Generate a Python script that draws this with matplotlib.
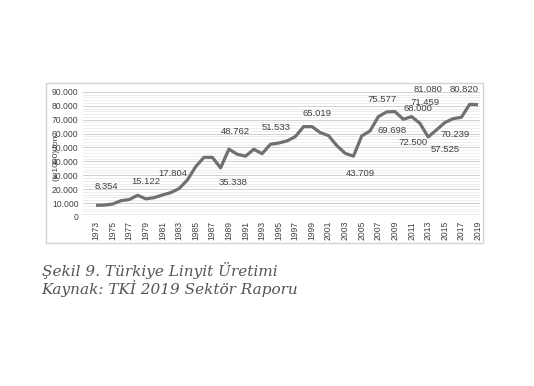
import numpy as np
import matplotlib.pyplot as plt
from matplotlib.patches import Rectangle
from matplotlib.ticker import MultipleLocator, FuncFormatter

# lignite production, thousand tons
years = list(range(1973, 2020))
production = [8354, 8500, 9300, 11700, 12500, 15600, 13000, 13900, 15800, 17500,
              20400, 26600, 36200, 42900, 42900, 35338, 48762, 45100, 43700, 48700,
              45500, 52300, 53200, 54700, 57800, 65019, 65000, 60700, 58500, 51300,
              45800, 43709, 58300, 61900, 72200, 75577, 75800, 70300, 72200, 67400,
              57525, 62600, 67900, 70700, 71700, 81080, 80820]

# data labels as they sit on the chart: text, anchor year, anchor value
label_texts = ['8.354', '15.122', '17.804', '48.762', '35.338', '51.533', '65.019',
               '43.709', '75.577', '69.698', '68.000', '72.500', '71.459', '81.080',
               '80.820', '57.525', '70.239']
label_years = [1974.2, 1979.0, 1982.3, 1989.8, 1989.5, 1994.7, 1999.6,
               2004.8, 2007.4, 2008.6, 2011.8, 2011.2, 2012.6, 2013.0,
               2017.3, 2015.0, 2016.2]
label_values = [21600, 25200, 30900, 61200, 24500, 64700, 74100,
                30900, 84200, 61900, 77700, 53900, 82700, 91400,
                91400, 48200, 59000]

fig = plt.figure(figsize=(5.34, 3.86), dpi=100)
fig.patch.set_facecolor('white')

# light frame around the chart
fig.patches.append(Rectangle((0.086, 0.370), 0.818, 0.415, transform=fig.transFigure,
                             fill=False, edgecolor='#d4d4d4', linewidth=1.0))

ax = fig.add_axes([0.155, 0.438, 0.744, 0.324])
x = np.arange(len(years))
ax.plot(x, production, color='#707070', linewidth=2.3, solid_capstyle='butt', zorder=3)

ax.set_xlim(-1.6, len(years) - 0.75)
ax.set_ylim(0, 90000)
ax.yaxis.set_major_locator(MultipleLocator(10000))
ax.yaxis.set_minor_locator(MultipleLocator(2000))
ax.yaxis.set_major_formatter(FuncFormatter(lambda v, p: f'{int(v):,}'.replace(',', '.')))
ax.grid(which='major', axis='y', color='#d0d0d0', linewidth=0.7)
ax.grid(which='minor', axis='y', color='#e6e6e6', linewidth=0.5)
ax.set_axisbelow(True)

ax.set_xticks(x[::2])
ax.set_xticklabels([str(y) for y in years[::2]], rotation=90)
ax.tick_params(axis='both', which='both', length=0)
ax.tick_params(axis='both', labelsize=6.2, labelcolor='#404040',
               labelfontfamily='Liberation Sans')
ax.tick_params(axis='x', pad=3)
ax.tick_params(axis='y', pad=3)
for s in ax.spines.values():
    s.set_visible(False)

for t, yr, v in zip(label_texts, label_years, label_values):
    ax.text(yr - 1973, v, t, ha='center', va='center', fontsize=6.8,
            color='#404040', family='Liberation Sans')

fig.text(0.105, 0.59, '(x 1000) ton', rotation=90, ha='center', va='center',
         fontsize=6.0, color='#404040', family='Liberation Sans')

# caption under the chart
fig.text(0.078, 0.300, 'Şekil 9. Türkiye Linyit Üretimi', fontsize=11, style='italic',
         color='#555555', family='DejaVu Serif', va='center')
fig.text(0.078, 0.253, 'Kaynak: TKİ 2019 Sektör Raporu', fontsize=11, style='italic',
         color='#555555', family='DejaVu Serif', va='center')

fig.savefig('out.png', dpi=100)
